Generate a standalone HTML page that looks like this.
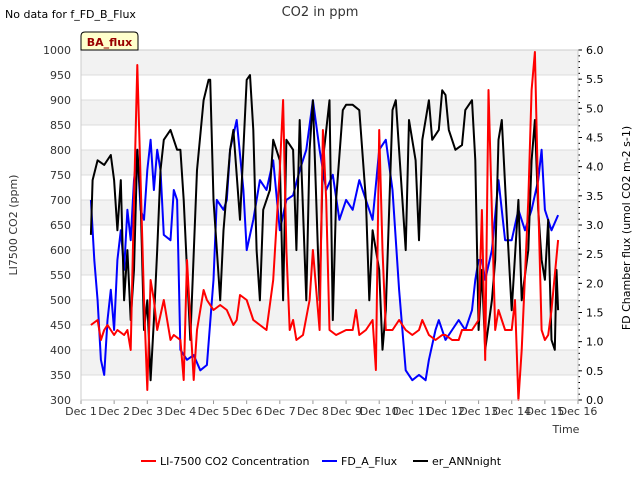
<!DOCTYPE html>
<html><head><meta charset="utf-8"><style>
body{margin:0;background:#fff;font-family:"Liberation Sans","DejaVu Sans",sans-serif;}
svg text{font-family:"DejaVu Sans","Liberation Sans",sans-serif;}
</style></head><body>
<svg id="c" width="640" height="480" xmlns="http://www.w3.org/2000/svg">
<text x="5" y="18" font-size="11" fill="#000">No data for f_FD_B_Flux</text>
<text x="320" y="16" font-size="13" fill="#333" text-anchor="middle">CO2 in ppm</text>
<g id="grid"></g>
<g id="series"></g>
<g id="axes"></g>
<g>
<path d="M81,50 L81,36 Q81,32 85,32 L134,32 Q138,32 138,36 L138,50 Z" fill="#ffffcc" stroke="#000" stroke-width="1"/>
<text x="109.5" y="46" font-size="11" font-weight="bold" fill="#990000" text-anchor="middle">BA_flux</text>
</g>
<text transform="translate(17,225) rotate(-90)" font-size="11" text-anchor="middle" fill="#333">LI7500 CO2 (ppm)</text>
<text transform="translate(630,228) rotate(-90)" font-size="11" text-anchor="middle" fill="#000">FD Chamber flux (umol CO2 m-2 s-1)</text>
<text x="566" y="433" font-size="11" text-anchor="middle" fill="#333">Time</text>
<g>
<g><line x1="141" y1="461" x2="156" y2="461" stroke="#f00" stroke-width="2"/><text x="160" y="465" font-size="11">LI-7500 CO2 Concentration</text></g>
<g><line x1="322" y1="461" x2="337" y2="461" stroke="#00f" stroke-width="2"/><text x="341" y="465" font-size="11">FD_A_Flux</text></g>
<g><line x1="413" y1="461" x2="428" y2="461" stroke="#000" stroke-width="2"/><text x="432" y="465" font-size="11">er_ANNnight</text></g>
</g>
</svg>
<script>
const xTickLabels=["Dec 1","Dec 2","Dec 3","Dec 4","Dec 5","Dec 6","Dec 7","Dec 8","Dec 9","Dec 10","Dec 11","Dec 12","Dec 13","Dec 14","Dec 15","Dec 16"];
const leftTicks=[300,350,400,450,500,550,600,650,700,750,800,850,900,950,1000];
const rightTicks=[0,0.5,1,1.5,2,2.5,3,3.5,4,4.5,5,5.5,6];
const redT=[1.3,1.5,1.6,1.7,1.8,2.0,2.1,2.3,2.4,2.5,2.6,2.7,2.8,2.9,3.0,3.1,3.2,3.3,3.5,3.7,3.8,4.0,4.1,4.2,4.3,4.4,4.5,4.7,4.8,5.0,5.2,5.4,5.6,5.7,5.8,6.0,6.2,6.4,6.6,6.8,7.0,7.1,7.2,7.3,7.4,7.5,7.7,7.9,8.0,8.2,8.3,8.4,8.5,8.7,9.0,9.2,9.3,9.4,9.6,9.8,9.9,10.0,10.1,10.2,10.4,10.6,10.8,11.0,11.2,11.3,11.5,11.7,11.9,12.0,12.2,12.4,12.5,12.6,12.8,13.0,13.1,13.2,13.3,13.5,13.6,13.8,14.0,14.1,14.2,14.3,14.5,14.6,14.7,14.8,14.9,15.0,15.1,15.2,15.4];
const redV=[450,460,420,440,450,430,440,430,440,400,700,970,740,500,320,540,500,440,500,420,430,420,340,580,460,340,440,520,500,480,490,480,450,460,510,500,460,450,440,540,760,900,600,440,460,420,430,500,600,440,840,700,440,430,440,440,480,430,440,460,360,840,600,440,440,460,440,430,440,460,430,420,430,430,420,420,440,440,440,460,680,380,920,440,480,440,440,500,300,400,700,920,996,700,440,420,430,480,620];
const blueT=[1.3,1.4,1.5,1.6,1.7,1.8,1.9,2.0,2.1,2.2,2.3,2.4,2.5,2.6,2.7,2.8,2.9,3.0,3.1,3.2,3.3,3.4,3.5,3.7,3.8,3.9,4.0,4.2,4.4,4.6,4.8,5.0,5.1,5.3,5.4,5.5,5.7,5.9,6.0,6.2,6.4,6.6,6.8,7.0,7.2,7.4,7.6,7.8,8.0,8.2,8.4,8.6,8.8,9.0,9.2,9.4,9.6,9.8,10.0,10.2,10.4,10.6,10.8,11.0,11.2,11.4,11.5,11.7,11.8,12.0,12.2,12.4,12.6,12.8,12.9,13.0,13.1,13.2,13.4,13.6,13.8,14.0,14.2,14.4,14.5,14.6,14.8,14.9,15.0,15.2,15.4];
const blueV=[3.43,2.4,1.71,0.69,0.43,1.37,1.89,1.2,2.4,2.91,2.23,3.26,2.74,3.77,4.29,3.26,3.09,3.94,4.46,3.6,4.29,3.94,2.83,2.74,3.6,3.43,0.86,0.69,0.77,0.51,0.6,2.06,3.43,3.26,3.43,4.29,4.8,3.6,2.57,3.09,3.77,3.6,4.11,2.91,3.43,3.51,3.94,4.29,5.14,4.29,3.6,3.86,3.09,3.43,3.26,3.77,3.43,3.09,4.29,4.46,3.6,1.89,0.51,0.34,0.43,0.34,0.69,1.2,1.37,1.03,1.2,1.37,1.2,1.54,2.06,2.4,2.4,2.06,2.57,3.77,2.74,2.74,3.26,2.91,3.09,3.26,3.77,4.29,3.26,2.91,3.17];
const blackT=[1.3,1.35,1.5,1.7,1.9,2.0,2.1,2.2,2.3,2.4,2.5,2.6,2.7,2.8,2.9,3.0,3.1,3.2,3.3,3.4,3.5,3.7,3.9,4.0,4.1,4.3,4.5,4.7,4.85,4.9,5.0,5.2,5.3,5.5,5.6,5.8,6.0,6.1,6.2,6.3,6.4,6.5,6.7,6.8,7.0,7.1,7.2,7.4,7.5,7.6,7.8,7.9,8.0,8.2,8.3,8.5,8.6,8.7,8.9,9.0,9.2,9.4,9.6,9.7,9.8,10.0,10.1,10.2,10.4,10.5,10.8,10.9,11.1,11.2,11.3,11.5,11.6,11.8,11.9,12.0,12.1,12.3,12.5,12.6,12.8,12.9,13.0,13.1,13.2,13.4,13.5,13.6,13.7,13.9,14.0,14.2,14.3,14.5,14.6,14.7,14.8,14.9,15.0,15.1,15.2,15.3,15.35,15.4];
const blackV=[2.83,3.77,4.11,4.03,4.2,3.77,2.91,3.77,1.71,2.57,1.37,2.23,4.29,3.43,1.2,1.71,0.34,1.37,2.57,3.94,4.46,4.63,4.29,4.29,3.43,1.03,3.94,5.14,5.49,5.49,3.43,1.71,2.91,4.29,4.63,3.09,5.49,5.57,4.63,2.57,1.71,3.26,3.6,4.46,4.11,1.71,4.46,4.29,2.57,4.8,1.71,4.29,5.14,1.71,4.11,5.14,1.37,3.43,4.97,5.06,5.06,4.97,3.43,1.71,2.91,2.23,0.86,1.54,4.97,5.14,2.57,4.8,4.11,2.74,4.46,5.14,4.46,4.63,5.31,5.23,4.63,4.29,4.37,4.97,5.14,4.11,1.2,2.23,0.86,1.71,2.4,4.46,4.8,2.57,1.54,3.43,1.71,2.57,4.11,4.8,3.26,2.4,2.06,3.09,1.03,0.86,2.23,1.54];

const NS="http://www.w3.org/2000/svg";
const X0=81,X1=578,Y0=400,Y1=50;
const xs=d=>X0+(d-1)*(X1-X0)/15;
const yl=v=>Y0-(v-300)*(Y0-Y1)/700;
const yr=v=>Y0-v*(Y0-Y1)/6;
function mk(tag,attrs,parent){const e=document.createElementNS(NS,tag);for(const k in attrs)e.setAttribute(k,attrs[k]);parent.appendChild(e);return e;}
const grid=document.getElementById('grid'),axes=document.getElementById('axes'),ser=document.getElementById('series');
for(let i=0;i<leftTicks.length-1;i++){
  if(i%2===1){const r=mk('rect',{x:X0,y:yl(leftTicks[i+1]),width:X1-X0,height:yl(leftTicks[i])-yl(leftTicks[i+1]),fill:'#f2f2f2'},grid);
  
  }
}
leftTicks.forEach(v=>{
  const l=mk('line',{x1:X0,x2:X1,y1:yl(v),y2:yl(v),stroke:'#dcdcdc','stroke-width':1},grid);
  
  
  const t=mk('text',{x:X0-10,y:yl(v)+4,'font-size':11,'text-anchor':'end',fill:'#333'},axes);t.textContent=v;
  
  
});
rightTicks.forEach(v=>{
  const t=mk('text',{x:X1+8,y:yr(v)+4,'font-size':11,fill:'#000'},axes);t.textContent=v.toFixed(1);
  
  
  mk('line',{x1:X1,x2:X1+4,y1:yr(v),y2:yr(v),stroke:'#000'},axes);
});
for(let v=0;v<=6.001;v+=0.1){mk('line',{x1:X1,x2:X1+2,y1:yr(v),y2:yr(v),stroke:'#000'},axes);}
xTickLabels.forEach((s,i)=>{
  const x=xs(i+1);
  mk('line',{x1:x,x2:x,y1:Y0,y2:Y0+4,stroke:'#999'},axes);
  const t=mk('text',{x:x,y:Y0+15,'font-size':11,'text-anchor':'middle',fill:'#333'},axes);t.textContent=s;
  
  
});
mk('rect',{x:X0,y:Y1,width:X1-X0,height:Y0-Y1,fill:'none',stroke:'#ccc'},axes);
function line(T,V,yf,col,name){
  const d=T.map((t,i)=>(i?'L':'M')+xs(t).toFixed(1)+','+yf(V[i]).toFixed(1)).join('');
  const p=mk('path',{d:d,fill:'none',stroke:col,'stroke-width':2,'stroke-linejoin':'round'},ser);
  
  
}
line(blueT,blueV,yr,'#00f','fd-a-flux-line');
line(blackT,blackV,yr,'#000','er-annnight-line');
line(redT,redV,yl,'#f00','li7500-co2-line');
</script>
</body></html>
